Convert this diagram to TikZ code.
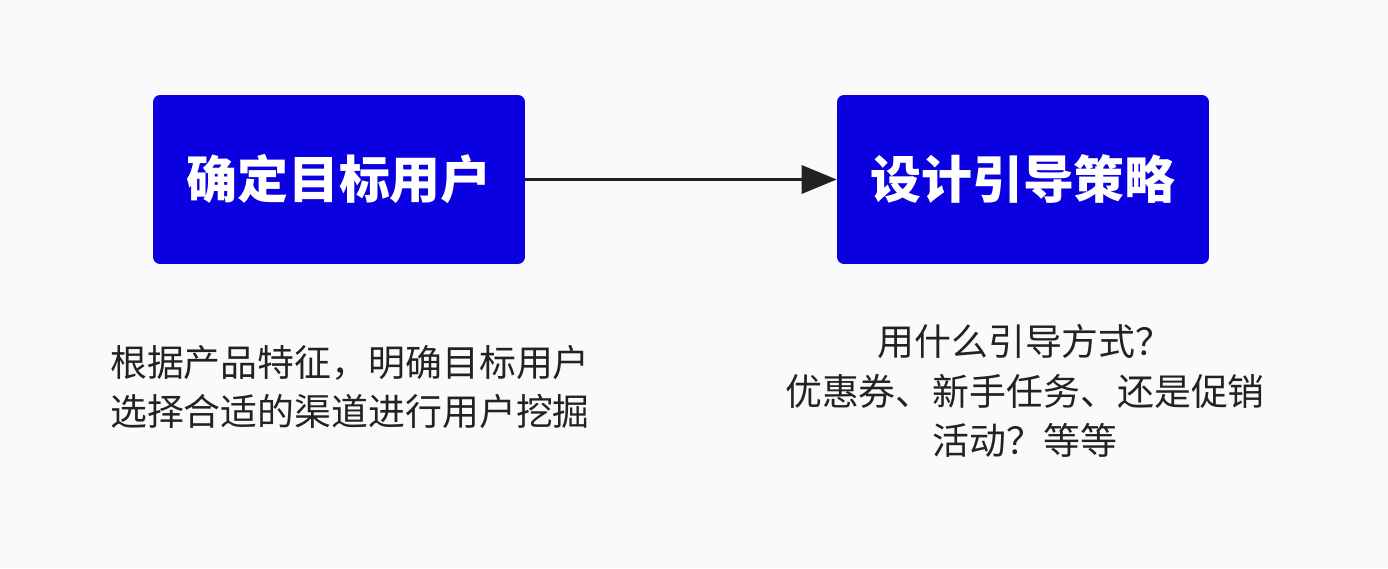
\documentclass[tikz,border=0pt]{standalone}
\usepackage{fontspec}
\newfontfamily\cjk{Noto Sans CJK SC}
\usetikzlibrary{arrows.meta}
\definecolor{boxblue}{HTML}{0A00E0}
\definecolor{bggray}{HTML}{FAFAFC}
\definecolor{txtgray}{HTML}{222222}
\tikzset{
  stepbox/.style={draw=none, fill=boxblue, rounded corners=4pt, minimum width=7.44cm, minimum height=3.38cm, text=white, font=\cjk\bfseries\fontsize{29}{34}\selectfont},
  note/.style={text=txtgray, font=\cjk\fontsize{21}{28}\selectfont, inner sep=0pt}
}
\begin{document}
\begin{tikzpicture}[x=0.02cm, y=-0.02cm]
	\fill [bggray] (0,0) rectangle (1388,568);
	\useasboundingbox (0,0) rectangle (1388,568);

	\node [stepbox] (target) at (339,179.5) {确定目标用户};
	\node [stepbox] (design) at (1023,179.5) {设计引导策略};
	\draw [line width=2pt, draw=txtgray, -{Triangle[length=20pt, width=16pt]}] (target) -- (design);

	\node [note, align=left] (targetnote) at (350,387) {根据产品特征，明确目标用户\\选择合适的渠道进行用户挖掘};
	\node [note, align=center] (designnote) at (1025,391) {用什么引导方式？\\优惠券、新手任务、还是促销\\活动？等等};
\end{tikzpicture}
\end{document}
